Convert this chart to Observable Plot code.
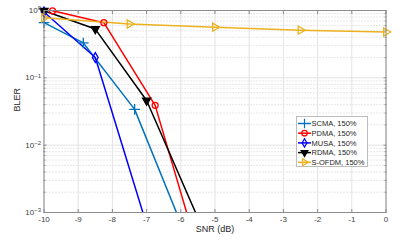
<!DOCTYPE html>
<html><head><meta charset="utf-8">
<script src="https://cdn.jsdelivr.net/npm/d3@7"></script>
<script src="https://cdn.jsdelivr.net/npm/@observablehq/plot@0.6"></script>
<style>
body{margin:0;background:#fff;}
#wrap{position:relative;width:410px;height:241px;font-family:"Liberation Sans",Arial,sans-serif;}
#legend{position:absolute;left:296px;top:116px;}
</style></head><body><div id="wrap"></div>
<script>
// ---- data ----
const seriesNames = ["SCMA, 150%", "PDMA, 150%", "MUSA, 150%", "RDMA, 150%", "S-OFDM, 150%"];
const snrSCMA = [-10, -8.85, -7.35, -5.85];
const blerSCMA = [0.66, 0.33, 0.034, 0.00045];
const snrPDMA = [-9.75, -8.25, -6.75, -5.25];
const blerPDMA = [0.99, 0.66, 0.039, 0.0001];
const snrMUSA = [-10, -8.5, -7];
const blerMUSA = [0.95, 0.20, 0.00066];
const snrRDMA = [-10, -8.5, -7, -5.5];
const blerRDMA = [0.99, 0.53, 0.046, 0.00083];
const snrSOFDM = [-10, -7.5, -5, -2.5, 0];
const blerSOFDM = [0.78, 0.63, 0.565, 0.51, 0.48];
const xTicks = [-10, -9, -8, -7, -6, -5, -4, -3, -2, -1, 0];
const yTicks = [1e-3, 1e-2, 1e-1, 1];

const colors = ["#0072BD", "#FF0000", "#0000FF", "#000000", "#EDB120"];
const symbols = ["plus", "circle", "diamond", "triangle", "triangle"];
const rotations = [0, 0, 0, 180, 90];
const fills = ["none", "none", "none", "#000000", "none"];

const raw = [[snrSCMA, blerSCMA], [snrPDMA, blerPDMA], [snrMUSA, blerMUSA], [snrRDMA, blerRDMA], [snrSOFDM, blerSOFDM]];
const series = raw.map(([xs, ys], i) => xs.map((x, j) => ({x, y: ys[j], s: i})));

const minorTicks = [];
for (let k = -3; k < 0; k++) for (let m = 2; m <= 9; m++) minorTicks.push(m * Math.pow(10, k));

const marks = [
  Plot.gridY(minorTicks, {stroke: "#d0d0d0", strokeOpacity: 1, strokeDasharray: "1,2"}),
  Plot.gridY(yTicks, {stroke: "#e3e3e3", strokeOpacity: 1}),
  Plot.gridX(xTicks, {stroke: "#e3e3e3", strokeOpacity: 1}),
];
series.forEach((d, i) => {
  marks.push(Plot.line(d, {x: "x", y: "y", stroke: colors[i], strokeWidth: 1.5, clip: true}));
});
series.forEach((d, i) => {
  marks.push(Plot.dot(d.filter(p => p.y >= 1e-3), {x: "x", y: "y", symbol: () => symbols[i], rotate: rotations[i],
    r: i === 0 ? 3.5 : 3, stroke: colors[i], strokeWidth: 1.3, fill: fills[i]}));
});
marks.push(
  Plot.frame({stroke: "#8c8c8c", strokeWidth: 1}),
  Plot.axisX({ticks: xTicks, tickSize: -3, stroke: "#8c8c8c", tickPadding: 7, fontSize: 8, fill: "#404040", label: null, tickFormat: d => String(d)}),
  Plot.axisX({ticks: xTicks, anchor: "top", tickSize: -3, stroke: "#8c8c8c", tickFormat: () => "", label: null}),
  Plot.axisY({ticks: yTicks, tickSize: -3, stroke: "#8c8c8c", tickPadding: 6, fontSize: 8, fill: "#404040", label: null, tickFormat: d => "10^" + Math.round(Math.log10(d))}),
  Plot.axisY({ticks: minorTicks, tickSize: -2, stroke: "#8c8c8c", tickFormat: () => "", label: null}),
  Plot.axisY({ticks: yTicks, anchor: "right", tickSize: -3, stroke: "#8c8c8c", tickFormat: () => "", label: null}),
  Plot.axisY({ticks: minorTicks, anchor: "right", tickSize: -2, stroke: "#8c8c8c", tickFormat: () => "", label: null}),
  Plot.text(["SNR (dB)"], {frameAnchor: "bottom", dy: 19, fontSize: 9, fill: "#262626"}),
  Plot.text(["BLER"], {frameAnchor: "left", rotate: -90, dx: -27, fontSize: 9, fill: "#262626"})
);

const chart = Plot.plot({
  width: 410, height: 241,
  marginLeft: 43.5, marginRight: 24.5, marginTop: 10, marginBottom: 29,
  style: {fontFamily: "'Liberation Sans', Arial, sans-serif", background: "#fff"},
  x: {type: "linear", domain: [-10, 0]},
  y: {type: "log", domain: [1e-3, 1]},
  marks
});
document.getElementById("wrap").appendChild(chart);

// superscript exponents on y tick labels
d3.select(chart).selectAll("text").each(function() {
  const t = this.textContent;
  if (!t.startsWith("10^")) return;
  const e = t.slice(3);
  const sel = d3.select(this);
  sel.selectAll("*").remove();
  sel.text(null);
  sel.append("tspan").text("10");
  sel.append("tspan").attr("dy", "-0.45em").attr("font-size", "6").text(e.replace("-", "\u2212"));
});

// legend
const lg = d3.select("#wrap").append("svg").attr("id", "legend").attr("width", 72).attr("height", 51);
lg.append("rect").attr("x", 0.5).attr("y", 0.5).attr("width", 71).attr("height", 50).attr("fill", "#fff").attr("stroke", "#bdbdbd");
seriesNames.forEach((name, i) => {
  const y = 7.5 + i * 9.7;
  lg.append("line").attr("x1", 2).attr("x2", 15).attr("y1", y).attr("y2", y).attr("stroke", colors[i]).attr("stroke-width", 1.5);
  const typeMap = {plus: d3.symbolPlus, circle: d3.symbolCircle, diamond: d3.symbolDiamond, triangle: d3.symbolTriangle};
  const sizes = {plus: 30, circle: 24, diamond: 20, triangle: 20};
  lg.append("path").attr("d", d3.symbol(typeMap[symbols[i]], sizes[symbols[i]])())
    .attr("transform", `translate(8.5,${y}) rotate(${rotations[i]})`)
    .attr("fill", fills[i]).attr("stroke", colors[i]).attr("stroke-width", 1.2);
  lg.append("text").attr("x", 15.5).attr("y", y).attr("dy", "0.35em").attr("font-size", 7.5).attr("fill", "#262626")
    .attr("font-family", "'Liberation Sans', Arial, sans-serif").text(name);
});
</script></body></html>
